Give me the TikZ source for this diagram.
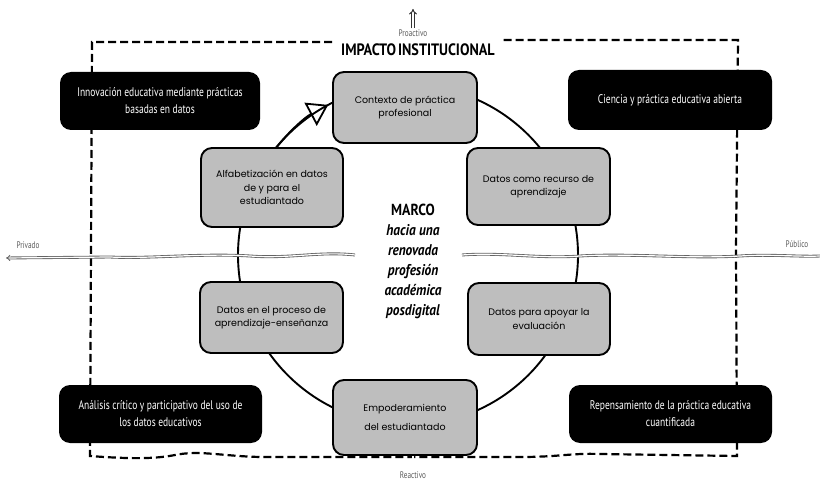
\documentclass[tikz,border=0pt]{standalone}
\usepackage{fontspec}
\setmainfont{Poppins}
\newfontfamily\condfont[FakeStretch=0.76]{PT Sans}
\newfontfamily\headfont[FakeStretch=0.86]{PT Sans}
\usetikzlibrary{arrows.meta,calc,backgrounds}
\definecolor{boxgray}{RGB}{190,190,190}
\definecolor{linegray}{RGB}{100,100,100}
\definecolor{labelgray}{RGB}{90,90,90}

\tikzset{
  graybox/.style={draw=black, line width=1.9pt, fill=boxgray, rounded corners=11pt,
    align=center, inner sep=0pt, font=\fontsize{9.5}{13.5}\selectfont},
  blackbox/.style={fill=black, text=white, rounded corners=11pt, align=center,
    inner sep=0pt, font=\condfont\fontsize{12.5}{17}\selectfont},
  dline/.style={draw=linegray, double=white, line width=0.85pt, double distance=1.2pt},
  ringline/.style={draw=black, line width=1.9pt},
  frameline/.style={draw=black, line width=2.2pt, dash pattern=on 8pt off 4pt},
  axislabel/.style={text=labelgray, font=\condfont\fontsize{9.5}{10}\selectfont, inner sep=1pt},
}

\begin{document}
\begin{tikzpicture}[x=1pt,y=-1pt]
\useasboundingbox (0,0) rectangle (820,481);

% central ring of practices
\node[graybox, minimum width=144pt, minimum height=71pt] (ctx) at (405,107.5)
  {Contexto de práctica\\profesional};
\node[graybox, minimum width=142pt, minimum height=79pt] (alf) at (272,187.5)
  {Alfabetización en datos\\de y para el\\estudiantado};
\node[graybox, minimum width=143pt, minimum height=77pt] (rec) at (538.5,186.5)
  {Datos como recurso de\\aprendizaje};
\node[graybox, minimum width=143pt, minimum height=71pt] (pro) at (271.5,317.5)
  {Datos en el proceso de\\aprendizaje-enseñanza};
\node[graybox, minimum width=142pt, minimum height=72pt] (apo) at (539,319)
  {Datos para apoyar la\\evaluación};
\node[graybox, minimum width=144pt, minimum height=75pt,
      font=\fontsize{9.5}{19}\selectfont] (emp) at (405,417.5)
  {Empoderamiento\\del estudiantado};

% corner statements
\node[blackbox, minimum width=200pt, minimum height=58pt] (inn) at (160,101)
  {Innovación educativa mediante prácticas\\basadas en datos};
\node[blackbox, minimum width=204pt, minimum height=60pt] (cie) at (670,100)
  {Ciencia y práctica educativa abierta};
\node[blackbox, minimum width=203pt, minimum height=58pt] (ana) at (160.5,414)
  {Análisis crítico y participativo del uso de\\los datos educativos};
\node[blackbox, minimum width=203pt, minimum height=58pt] (rep) at (670.5,414)
  {Repensamiento de la práctica educativa\\cuantificada};

% titles and centre text
\node[font=\headfont\bfseries\fontsize{16.5}{17}\selectfont, inner sep=1pt] (title) at (418,50)
  {IMPACTO\hspace{2pt}INSTITUCIONAL};
\node[font=\headfont\bfseries\fontsize{16}{17}\selectfont, inner sep=1pt] (marco) at (413,210)
  {MARCO};
\node[font=\headfont\bfseries\itshape\fontsize{15.5}{20}\selectfont, align=center, inner sep=1pt]
  (lema) at (413,272) {hacia una\\renovada\\profesión\\académica\\posdigital};

% axis labels
\node[axislabel] (proact) at (413,33) {Proactivo};
\node[axislabel] (react) at (413,475) {Reactivo};
\node[axislabel] (priv) at (28,245) {Privado};
\node[axislabel] (pub) at (797,244) {Público};

\coordinate (ring) at (408,255);
\coordinate (uptip) at (413,9);
\coordinate (hl) at (355,255);
\coordinate (hr) at (462,255);
\coordinate (privend) at (6,258);
\coordinate (pubend) at (820,256);

\begin{scope}[on background layer]
  % dashed institutional frame
  \draw[frameline] (332,42) -- (92,42) -- (91,250) -- (90,456)
    .. controls (130,459) and (155,459) .. (175,455)
    .. controls (200,450) and (220,456) .. (260,457)
    -- (520,457)
    .. controls (560,457) and (570,453) .. (600,454)
    -- (737,456) -- (736,250) -- (738,40) -- (503,40);
  % practice ring
  \draw[ringline] (ring) circle[radius=170];
  \draw[ringline, -{Triangle[open, length=20pt, width=26pt, line width=1.8pt]}]
    ($(ring)+(-145:170)$) arc[start angle=-145, end angle=-118, radius=170];
  % vertical axis
  \draw[dline, draw=black!80, line width=1pt, double distance=1.6pt, -{Implies}]
    (proact.north) -- (uptip);
  \draw[dline] (marco |- title.south) -- (marco |- ctx.north);
  \draw[dline] (marco |- ctx.south) -- (marco.north);
  \draw[dline] (lema.south) -- (marco |- emp.north);
  \draw[dline] (marco |- emp.south) -- (react.north);
  % horizontal axis
  \draw[dline, -{Implies}] (hl) .. controls (320,251) and (290,259) .. (250,256)
    .. controls (200,253) and (150,259) .. (110,257) -- (privend);
  \draw[dline] (hr) .. controls (500,252) and (540,259) .. (580,256)
    .. controls (630,253) and (690,259) .. (740,256)
    .. controls (770,254) and (800,257) .. (pubend);
\end{scope}
\end{tikzpicture}
\end{document}
